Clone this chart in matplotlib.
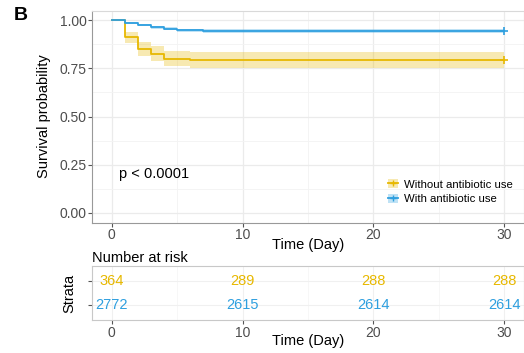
import matplotlib
matplotlib.use("Agg")
import matplotlib.pyplot as plt
from matplotlib.lines import Line2D
from matplotlib.patches import Patch
import numpy as np

plt.rcParams['font.family'] = ['Liberation Sans', 'DejaVu Sans']

# ---- data ----
groups = ["Without antibiotic use", "With antibiotic use"]
colors = ["#E7B800", "#2E9FDF"]

without_times = [0, 1, 2, 3, 4, 6, 13, 30]
without_surv = [1.0, 0.910, 0.848, 0.826, 0.800, 0.794, 0.791, 0.791]
without_lower = [1.0, 0.880, 0.812, 0.788, 0.760, 0.754, 0.750, 0.750]
without_upper = [1.0, 0.940, 0.885, 0.865, 0.842, 0.837, 0.834, 0.834]

with_times = [0, 1, 2, 3, 4, 5, 7, 30]
with_surv = [1.0, 0.986, 0.973, 0.963, 0.955, 0.948, 0.943, 0.943]
with_lower = [1.0, 0.982, 0.967, 0.956, 0.947, 0.940, 0.934, 0.934]
with_upper = [1.0, 0.990, 0.979, 0.970, 0.963, 0.956, 0.952, 0.952]

risk_times = [0, 10, 20, 30]
risk_without = [364, 289, 288, 288]
risk_with = [2772, 2615, 2614, 2614]

x_ticks = [0, 10, 20, 30]
y_ticks = [0.0, 0.25, 0.5, 0.75, 1.0]
y_ticklabels = ["0.00", "0.25", "0.50", "0.75", "1.00"]

# ---- figure ----
W, H = 524, 353
fig = plt.figure(figsize=(W / 100, H / 100), dpi=100)

def fx(px):
    return px / W

def fy(py):
    return 1 - py / H

grid_c = "#ebebeb"
tick_c = "#4d4d4d"

ax = fig.add_axes([fx(92), fy(222.5), fx(524 - 92), fy(10.5) - fy(222.5)])
ax.set_xlim(-1.5, 31.5)
ax.set_ylim(-0.05, 1.05)

series = [
    (without_times, without_surv, without_lower, without_upper, colors[0]),
    (with_times, with_surv, with_lower, with_upper, colors[1]),
]
for t, s, lo, up, c in series:
    ax.fill_between(t, lo, up, step="post", color=c, alpha=0.3, linewidth=0, zorder=2)
    ax.step(t, s, where="post", color=c, lw=1.3, zorder=3)
    ax.plot([t[-1]], [s[-1]], marker="+", color=c, ms=6, mew=1.2, zorder=4, ls="none")

ax.set_xticks(x_ticks)
ax.set_yticks(y_ticks)
ax.set_yticklabels(y_ticklabels)
ax.set_xticks([5, 15, 25], minor=True)
ax.set_yticks([0.125, 0.375, 0.625, 0.875], minor=True)
ax.grid(True, which="major", color=grid_c, lw=0.9, zorder=0)
ax.grid(True, which="minor", color="#f3f3f3", lw=0.6, zorder=0)
ax.tick_params(which="minor", length=0)
ax.tick_params(which="major", length=3, color="#555555", width=0.8,
               labelsize=10, labelcolor=tick_c, pad=1)
for sp in ax.spines.values():
    sp.set_color("#d9d9d9")
    sp.set_linewidth(0.8)
ax.spines["left"].set_color("#999999")
ax.spines["bottom"].set_color("#999999")
ax.set_xlabel("Time (Day)", fontsize=10.5, labelpad=-3)
ax.set_ylabel("Survival probability", fontsize=10.5, labelpad=6)
ax.text(0.6, 0.2, "p < 0.0001", fontsize=10.5, va="center", ha="left")

handles = []
for c in colors:
    handles.append((Patch(facecolor=c, alpha=0.3, edgecolor="none"),
                    Line2D([], [], color=c, lw=1.3, marker="+", ms=5, mew=1.0)))
leg = ax.legend(handles, groups, loc="lower right", bbox_to_anchor=(0.985, 0.065),
                fontsize=8.2, frameon=False, handlelength=0.9, handleheight=0.9,
                handletextpad=0.5, labelspacing=0.35, borderaxespad=0)

fig.text(fx(14), fy(15), "B", fontsize=14, fontweight="bold", ha="left", va="center")

# ---- risk table ----
rt = fig.add_axes([fx(92), fy(320), fx(524 - 92), fy(266) - fy(320)])
rt.set_xlim(-1.5, 31.5)
rt.set_ylim(0.375, 2.625)
for x, n in zip(risk_times, risk_without):
    rt.text(x, 2, str(n), color=colors[0], fontsize=10.5, ha="center", va="center")
for x, n in zip(risk_times, risk_with):
    rt.text(x, 1, str(n), color=colors[1], fontsize=10.5, ha="center", va="center")
rt.set_xticks(x_ticks)
rt.set_xticks([5, 15, 25], minor=True)
rt.set_yticks([1, 2])
rt.set_yticklabels(["", ""])
rt.grid(True, which="major", color="#f0f0f0", lw=0.8, zorder=0)
rt.grid(True, which="minor", axis="x", color="#f6f6f6", lw=0.6, zorder=0)
rt.tick_params(which="minor", length=0)
rt.tick_params(which="major", length=3, color="#555555", width=0.8,
               labelsize=10, labelcolor=tick_c, pad=1)
for sp in rt.spines.values():
    sp.set_color("#c8c8c8")
    sp.set_linewidth(0.8)
rt.set_xlabel("Time (Day)", fontsize=10.5, labelpad=-4)
rt.set_ylabel("Strata", fontsize=10.5, labelpad=7)
rt.set_title("Number at risk", fontsize=10.5, loc="left", pad=3, x=0.0)

fig.savefig("out.png", dpi=100)
